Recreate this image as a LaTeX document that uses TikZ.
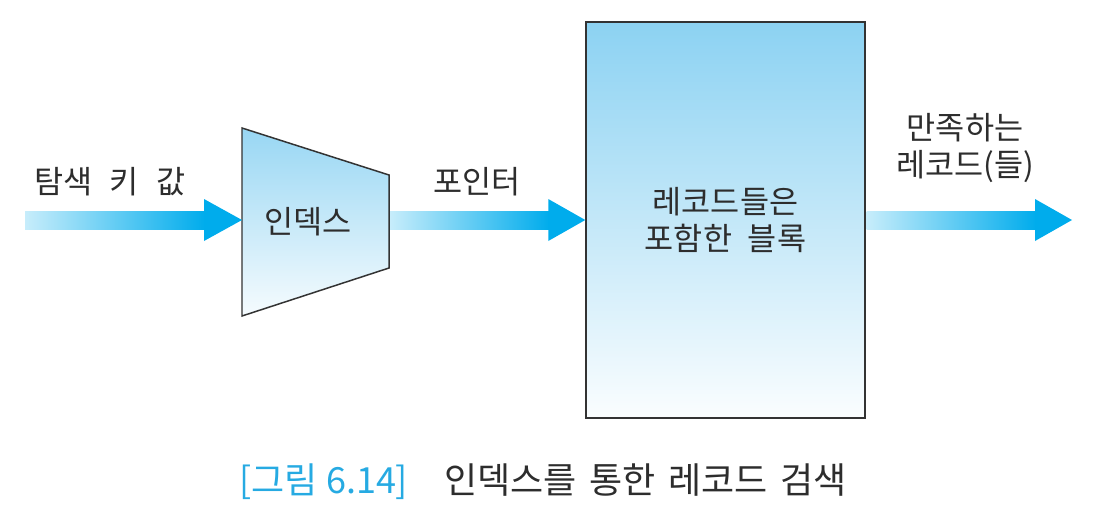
\documentclass[tikz,border=0pt]{standalone}
\usepackage{fontspec}
\setmainfont{Noto Sans CJK KR}
\usetikzlibrary{calc}
\definecolor{arrowblue}{RGB}{0,172,236}
\definecolor{boxtop}{RGB}{140,210,242}
\definecolor{inktext}{RGB}{45,45,45}
\definecolor{capblue}{RGB}{38,170,226}
\begin{document}
\begin{tikzpicture}[x=0.02cm, y=-0.02cm,
  every node/.style={font=\fontsize{18pt}{21pt}\selectfont, text=inktext},
  shaft/.style={left color=arrowblue!22, right color=arrowblue},
  tip/.style={fill=arrowblue},
  outline/.style={draw=black!80, line width=0.85pt}]
  \useasboundingbox (0,0) rectangle (1096,524);
  % index (trapezoid)
  \shade[outline, top color=boxtop!90, bottom color=boxtop!8] (242,128) -- (389,175) -- (389,268) -- (242,316) -- cycle;
  \coordinate (idxW) at (242,220);
  \coordinate (idxE) at (390,220);
  \node (idx) at (308,222) {인덱스};
  % block of records
  \node[outline, top color=boxtop, bottom color=boxtop!4, minimum width=5.58cm, minimum height=7.92cm, align=center] (blk) at (725.5,220) {레코드들은\\포함한\hspace{0.5em}블록};
  \coordinate (key) at (25,220);
  \coordinate (out) at (1072,220);
  % arrows
  \shade[shaft] ($(key)+(0,-9)$) rectangle ($(idxW)+(-37,9)$);
  \fill[tip] ($(idxW)+(-38,-21)$) -- (idxW) -- ($(idxW)+(-38,21)$) -- cycle;
  \shade[shaft] ($(idxE)+(0,-9)$) rectangle ($(blk.west)+(-36,9)$);
  \fill[tip] ($(blk.west)+(-37,-21)$) -- (blk.west) -- ($(blk.west)+(-37,21)$) -- cycle;
  \shade[shaft] ($(blk.east)+(1,-9)$) rectangle ($(out)+(-36,9)$);
  \fill[tip] ($(out)+(-37,-21)$) -- (out) -- ($(out)+(-37,21)$) -- cycle;
  % labels
  \node (keylbl) at (110,182) {탐색\hspace{0.55em}키\hspace{0.55em}값};
  \node (ptrlbl) at (477,182) {포인터};
  \node[align=center] (reslbl) at (965,148) {만족하는\\레코드(들)};
  \node[font=\fontsize{20.5pt}{24pt}\selectfont] (cap) at (543,482) {\textcolor{capblue}{[그림 6.14]}\quad 인덱스를\hspace{0.35em}통한\hspace{0.35em}레코드\hspace{0.35em}검색};
\end{tikzpicture}
\end{document}
